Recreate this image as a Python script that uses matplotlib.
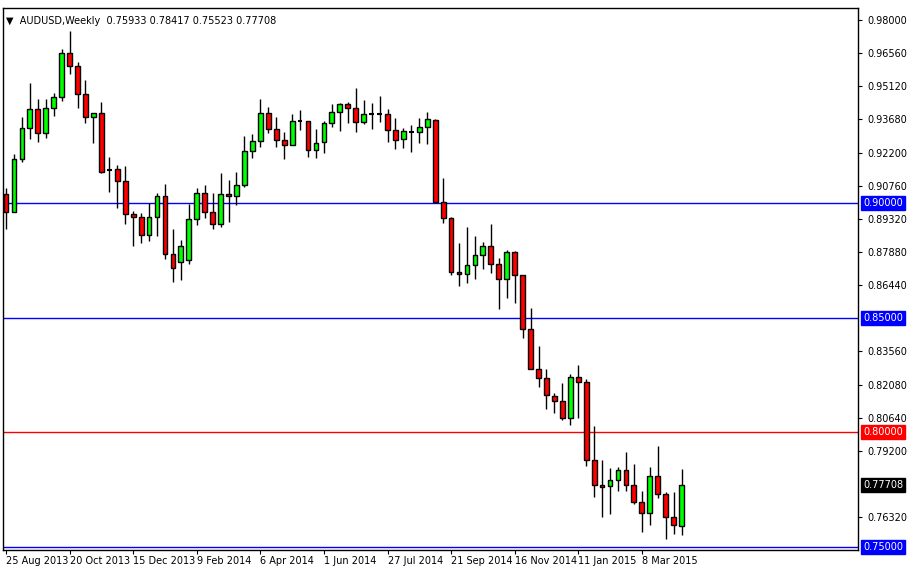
import numpy as np
import matplotlib
matplotlib.use('Agg')
import matplotlib.pyplot as plt

# weekly AUDUSD candles, first week = 25 Aug 2013
OPEN = [0.9041, 0.8962, 0.9193, 0.9329, 0.9412, 0.9307, 0.9416, 0.9464, 0.9656, 0.9599,
        0.9477, 0.9377, 0.9394, 0.9145, 0.9150, 0.9097, 0.8953, 0.8940, 0.8862, 0.8940,
        0.9032, 0.8779, 0.8744, 0.8753, 0.8931, 0.9045, 0.8962, 0.8910, 0.9041, 0.9032,
        0.9080, 0.9228, 0.9272, 0.9394, 0.9324, 0.9276, 0.9255, 0.9359, 0.9359, 0.9233,
        0.9268, 0.9351, 0.9398, 0.9433, 0.9416, 0.9355, 0.9390, 0.9390, 0.9390, 0.9320,
        0.9281, 0.9311, 0.9311, 0.9333, 0.9364, 0.9006, 0.8936, 0.8700, 0.8691, 0.8731,
        0.8774, 0.8814, 0.8735, 0.8670, 0.8788, 0.8687, 0.8451, 0.8277, 0.8238, 0.8159,
        0.8137, 0.8063, 0.8242, 0.8220, 0.7880, 0.7771, 0.7766, 0.7792, 0.7836, 0.7771,
        0.7696, 0.7648, 0.7810, 0.7731, 0.7631, 0.75933]
HIGH = [0.9067, 0.9215, 0.9377, 0.9525, 0.9455, 0.9455, 0.9481, 0.9673, 0.9752, 0.9617,
        0.9538, 0.9394, 0.9442, 0.9202, 0.9167, 0.9163, 0.8966, 0.8958, 0.9001, 0.9045,
        0.9084, 0.8888, 0.8840, 0.8997, 0.9067, 0.9080, 0.9045, 0.9132, 0.9102, 0.9137,
        0.9294, 0.9303, 0.9455, 0.9420, 0.9377, 0.9311, 0.9390, 0.9407, 0.9359, 0.9324,
        0.9359, 0.9433, 0.9438, 0.9442, 0.9503, 0.9451, 0.9438, 0.9468, 0.9412, 0.9372,
        0.9329, 0.9342, 0.9372, 0.9398, 0.9368, 0.9111, 0.8940, 0.8827, 0.8897, 0.8857,
        0.8831, 0.8910, 0.8761, 0.8796, 0.8792, 0.8687, 0.8543, 0.8377, 0.8277, 0.8172,
        0.8216, 0.8255, 0.8294, 0.8233, 0.8028, 0.7880, 0.7845, 0.7849, 0.7915, 0.7862,
        0.7744, 0.7849, 0.7941, 0.7740, 0.7740, 0.78417]
LOW = [0.8888, 0.8962, 0.9180, 0.9281, 0.9268, 0.9285, 0.9381, 0.9446, 0.9564, 0.9416,
       0.9351, 0.9263, 0.9132, 0.9049, 0.8979, 0.8910, 0.8814, 0.8827, 0.8836, 0.8857,
       0.8757, 0.8657, 0.8665, 0.8735, 0.8905, 0.8936, 0.8888, 0.8897, 0.8918, 0.8993,
       0.9071, 0.9198, 0.9246, 0.9307, 0.9246, 0.9193, 0.9255, 0.9320, 0.9202, 0.9198,
       0.9220, 0.9333, 0.9316, 0.9351, 0.9311, 0.9346, 0.9324, 0.9355, 0.9268, 0.9237,
       0.9241, 0.9224, 0.9263, 0.9259, 0.9001, 0.8914, 0.8687, 0.8639, 0.8652, 0.8670,
       0.8713, 0.8696, 0.8539, 0.8587, 0.8565, 0.8412, 0.8277, 0.8198, 0.8102, 0.8085,
       0.8054, 0.8032, 0.8063, 0.7854, 0.7718, 0.7631, 0.7644, 0.7744, 0.7744, 0.7688,
       0.7565, 0.7596, 0.7714, 0.7535, 0.7557, 0.75523]
CLOSE = [0.8962, 0.9193, 0.9329, 0.9412, 0.9307, 0.9416, 0.9464, 0.9656, 0.9599, 0.9477,
         0.9377, 0.9394, 0.9137, 0.9143, 0.9097, 0.8953, 0.8940, 0.8862, 0.8940, 0.9032,
         0.8779, 0.8718, 0.8814, 0.8931, 0.9045, 0.8962, 0.8910, 0.9041, 0.9032, 0.9080,
         0.9228, 0.9272, 0.9394, 0.9324, 0.9276, 0.9255, 0.9359, 0.9357, 0.9233, 0.9263,
         0.9351, 0.9398, 0.9433, 0.9416, 0.9355, 0.9390, 0.9388, 0.9391, 0.9320, 0.9276,
         0.9316, 0.9310, 0.9333, 0.9368, 0.9006, 0.8936, 0.8700, 0.8691, 0.8731, 0.8774,
         0.8814, 0.8735, 0.8670, 0.8788, 0.8687, 0.8451, 0.8277, 0.8238, 0.8163, 0.8137,
         0.8063, 0.8242, 0.8220, 0.7880, 0.7771, 0.7762, 0.7792, 0.7836, 0.7771, 0.7696,
         0.7648, 0.7810, 0.7731, 0.7631, 0.7596, 0.77708]

DATE_LABELS = ["25 Aug 2013", "20 Oct 2013", "15 Dec 2013", "9 Feb 2014", "6 Apr 2014",
               "1 Jun 2014", "27 Jul 2014", "21 Sep 2014", "16 Nov 2014", "11 Jan 2015",
               "8 Mar 2015"]
PRICE_TICKS = [0.98, 0.9656, 0.9512, 0.9368, 0.922, 0.9076, 0.8932, 0.8788, 0.8644,
               0.8356, 0.8208, 0.8064, 0.792, 0.7632]
LEVELS = [(0.90, 'blue'), (0.85, 'blue'), (0.80, 'red'), (0.75, 'blue')]

fig = plt.figure(figsize=(9.16, 5.72), dpi=100)
ax = fig.add_axes([3 / 916, 22 / 572, 855 / 916, 542 / 572])
n = len(OPEN)
x = np.arange(n)
ax.set_xlim(-0.38, 107.2)
ax.set_ylim(0.7487, 0.9852)

for lv, col in LEVELS:
    ax.axhline(lv, color=col, lw=1, zorder=1)

for i in range(n):
    o, h, l, c = OPEN[i], HIGH[i], LOW[i], CLOSE[i]
    ax.vlines(x[i], l, h, color='black', lw=1, zorder=2)
    col = '#00ff00' if c > o else '#ff0000'
    lo, hi = min(o, c), max(o, c)
    if hi - lo < 0.0004:
        ax.hlines((o + c) / 2, x[i] - 0.3, x[i] + 0.3, color='black', lw=1.5, zorder=3)
    else:
        ax.bar(x[i], hi - lo, bottom=lo, width=0.6, color=col, edgecolor='black',
               linewidth=1, zorder=3)

ax.yaxis.tick_right()
ax.set_yticks(PRICE_TICKS)
ax.set_yticklabels([f"{v:.5f}" for v in PRICE_TICKS], fontsize=7)
ax.tick_params(axis='y', length=3, pad=4)
ax.set_xticks(np.arange(len(DATE_LABELS)) * 8)
ax.set_xticklabels(DATE_LABELS, fontsize=7, ha='left')
ax.tick_params(axis='x', length=3, pad=1)
for s in ax.spines.values():
    s.set_linewidth(1)

# colored price labels on the right
tags = LEVELS + [(CLOSE[-1], 'black')]
for v, col in tags:
    ax.text(1.006, v, f"{v:.5f}", transform=ax.get_yaxis_transform(), fontsize=7,
            color='white', va='center', ha='left',
            bbox=dict(boxstyle='square,pad=0.2', fc=col, ec=col))

ax.text(0.004, 0.985, "\u25bc  AUDUSD,Weekly  0.75933 0.78417 0.75523 0.77708",
        transform=ax.transAxes, fontsize=7, va='top', ha='left')

fig.savefig('out.png', dpi=100)
